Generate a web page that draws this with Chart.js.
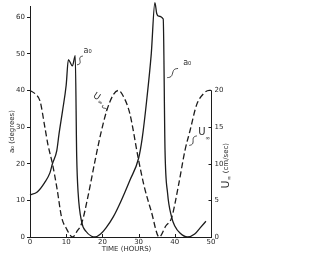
<!DOCTYPE html>
<html>
<head>
<meta charset="utf-8">
<script src="https://cdn.jsdelivr.net/npm/chart.js@4.4.1/dist/chart.umd.min.js"></script>
<style>
html,body{margin:0;padding:0;background:#fff;}
#c{display:block;}
</style>
</head>
<body>
<canvas id="c" width="315" height="260"></canvas>
<script>
// ---- data ----
const timeA0 = [0, 2, 4, 5.5, 6.2, 7.4, 8, 9, 10, 10.6, 11.7, 12.5, 12.9, 13.3, 14.3, 15.5, 17, 18, 19.5, 21, 23, 25, 27.6, 30, 31, 32.2, 33.5, 34.5, 35, 35.5, 36.8, 37.3, 38, 39.1, 40, 41.5, 43.5, 45.5, 47, 48.6];
const a0Degrees = [11.5, 12.3, 14.8, 17.5, 20, 23.6, 28, 34.5, 41.5, 48.4, 46.7, 49.5, 22, 12, 4, 1.5, 0.2, 0, 0.8, 2.5, 5.5, 9.5, 15.5, 21.5, 27, 37, 50, 64, 61, 60.3, 59.5, 23.6, 12, 5.5, 3, 1, 0, 0.8, 2.5, 4.3];
const timeU = [0, 1.5, 2.8, 4.1, 5, 6.2, 7.5, 8.7, 10, 11.8, 13, 14.3, 16, 18, 19.5, 21.2, 23, 24.4, 26, 27.6, 29.9, 31.5, 33.5, 35.7, 37.5, 39.1, 41, 42.8, 44.2, 46, 48, 49.5, 50];
const uCmSec = [20, 19.5, 18.5, 15, 12.5, 10, 6.5, 2.75, 1.2, 0, 0.8, 1.9, 5.5, 10.5, 14, 17.25, 19.4, 20, 19, 16.8, 10.75, 7, 3.5, 0, 1.5, 2.6, 7, 11.8, 14.5, 18, 19.6, 20, 20];
const timeTicks = [0, 10, 20, 30, 40, 50];
const degreeTicks = [0, 10, 20, 30, 40, 50, 60];
const speedTicks = [0, 5, 10, 15, 20];

const INK = '#1c1c1c';
const TXT = '#2a2a2a';
const FONT = '"DejaVu Sans"';

function squiggle(ctx, x1, y1, x2, y2) {
  const dx = x2 - x1, dy = y2 - y1;
  const len = Math.hypot(dx, dy);
  const nx = -dy / len, ny = dx / len;
  ctx.beginPath();
  ctx.moveTo(x1, y1);
  const steps = 12;
  for (let i = 1; i <= steps; i++) {
    const f = i / steps;
    const w = Math.sin(f * Math.PI * 2) * 1.6;
    ctx.lineTo(x1 + dx * f + nx * w, y1 + dy * f + ny * w);
  }
  ctx.stroke();
}

const decor = {
  id: 'decor',
  afterDraw(chart) {
    const { ctx, chartArea: ca, scales } = chart;
    const x = scales.x, y = scales.y, y1 = scales.y1;
    ctx.save();
    ctx.strokeStyle = INK;
    ctx.lineWidth = 1;
    // right axis line (0..20 only)
    const rx = Math.round(ca.right) + 0.5;
    ctx.beginPath();
    ctx.moveTo(rx, y1.getPixelForValue(speedTicks[0]));
    ctx.lineTo(rx, y1.getPixelForValue(speedTicks[speedTicks.length - 1]));
    ctx.stroke();
    // inward ticks on right axis
    speedTicks.forEach(v => {
      const py = Math.round(y1.getPixelForValue(v)) + 0.5;
      ctx.beginPath(); ctx.moveTo(rx - 3, py); ctx.lineTo(rx, py); ctx.stroke();
    });
    // inward ticks on time axis
    timeTicks.forEach(v => {
      const px = Math.round(x.getPixelForValue(v)) + 0.5;
      ctx.beginPath(); ctx.moveTo(px, ca.bottom); ctx.lineTo(px, ca.bottom - 3); ctx.stroke();
    });
    // right tick labels
    ctx.fillStyle = TXT;
    ctx.font = '7px ' + FONT;
    ctx.textAlign = 'left';
    ctx.textBaseline = 'middle';
    speedTicks.forEach(v => {
      ctx.fillText(String(v), rx + 3, y1.getPixelForValue(v));
    });
    // x title
    ctx.textAlign = 'center';
    ctx.fillText('TIME (HOURS)', (ca.left + ca.right) / 2 + 6, ca.bottom + 12);
    // left title
    ctx.save();
    ctx.translate(12, (y.getPixelForValue(0) + y.getPixelForValue(63)) / 2 + 10);
    ctx.rotate(-Math.PI / 2);
    ctx.textAlign = 'center';
    ctx.fillText('a\u2080 (degrees)', 0, 0);
    ctx.restore();
    // right title: U∞ (cm/sec)
    ctx.save();
    const cy = (y1.getPixelForValue(0) + y1.getPixelForValue(20)) / 2 + 2;
    ctx.translate(rx + 15, cy);
    ctx.rotate(-Math.PI / 2);
    ctx.textAlign = 'left';
    ctx.font = '11px ' + FONT; const wU = ctx.measureText('U').width;
    ctx.font = '6px ' + FONT; const wI = ctx.measureText('\u221E').width;
    ctx.font = '7px ' + FONT; const wR = ctx.measureText(' (cm/sec)').width;
    let sx = -(wU + wI + wR) / 2;
    ctx.font = '11px ' + FONT; ctx.fillText('U', sx, 0); sx += wU;
    ctx.font = '6px ' + FONT; ctx.fillText('\u221E', sx, 3); sx += wI;
    ctx.font = '7px ' + FONT; ctx.fillText(' (cm/sec)', sx, 0);
    ctx.restore();

    // curve labels
    ctx.font = '8px ' + FONT;
    ctx.textAlign = 'left';
    ctx.textBaseline = 'middle';
    ctx.lineWidth = 0.8;
    // a0 near first spike
    ctx.fillText('a\u2080', x.getPixelForValue(14.8), y.getPixelForValue(50.8));
    squiggle(ctx, x.getPixelForValue(13.0), y.getPixelForValue(47.0), x.getPixelForValue(14.6), y.getPixelForValue(49.4));
    // a0 near second spike
    ctx.fillText('a\u2080', x.getPixelForValue(42.3), y.getPixelForValue(47.5));
    squiggle(ctx, x.getPixelForValue(37.9), y.getPixelForValue(43.5), x.getPixelForValue(40.9), y.getPixelForValue(46.0));
    // U∞ near dashed peak
    ctx.save();
    ctx.translate(x.getPixelForValue(17.6), y.getPixelForValue(38.8));
    ctx.rotate(0.6);
    ctx.font = '9px ' + FONT; ctx.fillText('U', 0, 0);
    ctx.font = '6px ' + FONT; ctx.fillText('\u221E', 7, 3);
    ctx.restore();
    squiggle(ctx, x.getPixelForValue(20.2), y.getPixelForValue(36.0), x.getPixelForValue(21.0), y.getPixelForValue(34.3));
    // U∞ near second dashed rise
    ctx.font = '10px ' + FONT; ctx.fillText('U', x.getPixelForValue(46.5), y.getPixelForValue(28.6));
    ctx.font = '6px ' + FONT; ctx.fillText('\u221E', x.getPixelForValue(48.4), y.getPixelForValue(27.0));
    squiggle(ctx, x.getPixelForValue(44.0), y.getPixelForValue(25.0), x.getPixelForValue(46.1), y.getPixelForValue(27.6));
    ctx.restore();
  }
};

new Chart(document.getElementById('c'), {
  type: 'line',
  data: {
    datasets: [
      {
        label: 'a0',
        data: timeA0.map((t, i) => ({ x: t, y: a0Degrees[i] })),
        yAxisID: 'y',
        borderColor: INK,
        borderWidth: 1.3,
        pointRadius: 0,
        cubicInterpolationMode: 'monotone',
        clip: false,
        fill: false
      },
      {
        label: 'U',
        data: timeU.map((t, i) => ({ x: t, y: uCmSec[i] })),
        yAxisID: 'y1',
        borderColor: INK,
        borderWidth: 1.3,
        borderDash: [6, 3],
        pointRadius: 0,
        cubicInterpolationMode: 'monotone',
        clip: false,
        fill: false
      }
    ]
  },
  options: {
    responsive: false,
    animation: false,
    events: [],
    layout: { padding: { top: 5, left: 0, right: 0, bottom: 0 } },
    plugins: { legend: { display: false }, tooltip: { enabled: false } },
    scales: {
      x: {
        type: 'linear',
        min: 0, max: 50,
        afterFit: s => { s.height = 23; },
        afterBuildTicks: s => { s.ticks = timeTicks.map(v => ({ value: v })); },
        grid: { display: false, drawTicks: false, tickLength: 0 },
        border: { display: true, color: INK, width: 1 },
        ticks: { color: TXT, font: { family: 'DejaVu Sans', size: 7 }, padding: 1, maxRotation: 0 }
      },
      y: {
        type: 'linear',
        position: 'left',
        min: 0, max: 63,
        afterFit: s => { s.width = 30; },
        afterBuildTicks: s => { s.ticks = degreeTicks.map(v => ({ value: v })); },
        grid: { display: true, drawOnChartArea: false, tickLength: 3, color: INK },
        border: { display: true, color: INK, width: 1 },
        ticks: { color: TXT, font: { family: 'DejaVu Sans', size: 7 }, padding: 2 }
      },
      y1: {
        type: 'linear',
        position: 'right',
        min: 0, max: 31.5,
        afterFit: s => { s.width = 104; },
        afterBuildTicks: s => { s.ticks = speedTicks.map(v => ({ value: v })); },
        grid: { display: false },
        border: { display: false },
        ticks: { display: false }
      }
    }
  },
  plugins: [decor]
});
</script>
</body>
</html>
